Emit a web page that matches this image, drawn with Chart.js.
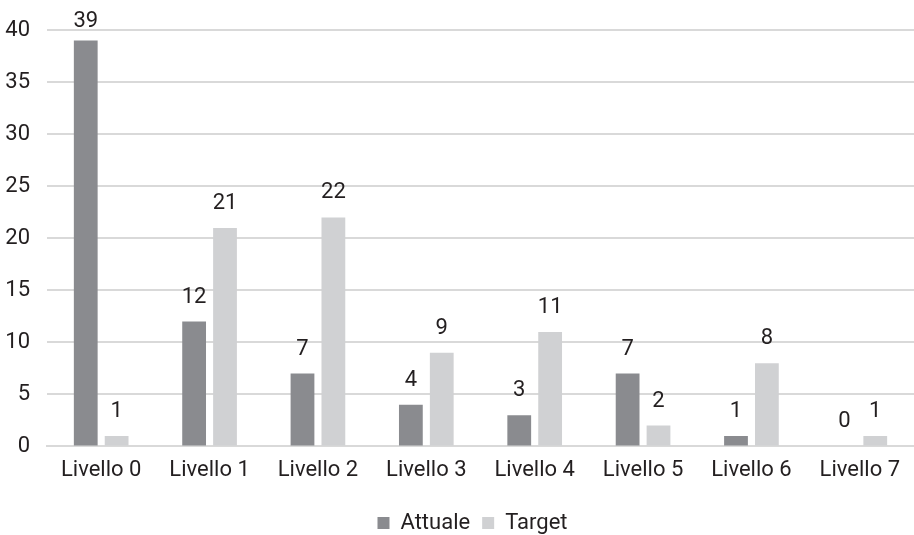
<!DOCTYPE html>
<html><head><meta charset="utf-8">
<script src="https://cdn.jsdelivr.net/npm/chart.js@4.4.1/dist/chart.umd.min.js"></script>
<style>html,body{margin:0;padding:0;background:#fff}#wrap{width:914px;height:535px}</style>
</head><body><div id="wrap"><canvas id="c"></canvas></div>
<script>
const categories = ["Livello 0","Livello 1","Livello 2","Livello 3","Livello 4","Livello 5","Livello 6","Livello 7"];
const attuale = [39,12,7,4,3,7,1,0];
const target = [1,21,22,9,11,2,8,1];
const seriesNames = ["Attuale","Target"];
const yTicks = [0,5,10,15,20,25,30,35,40];
const FONT = "Roboto, 'Liberation Sans', sans-serif";
const TXT = '#231f20';

const labelPlugin = {
  id: 'valueLabels',
  afterDatasetsDraw(chart) {
    const ctx = chart.ctx;
    ctx.save();
    ctx.font = '22px ' + FONT;
    ctx.fillStyle = TXT;
    ctx.textAlign = 'center';
    ctx.textBaseline = 'alphabetic';
    chart.data.datasets.forEach((ds, i) => {
      chart.getDatasetMeta(i).data.forEach((bar, j) => {
        const y = Math.max(bar.y - 19, chart.chartArea.top - 3);
        ctx.fillText(String(ds.data[j]), bar.x, y);
      });
    });
    ctx.restore();
  }
};

// centre the legend under the plot area like the reference
const legendShift = {
  id: 'legendShift',
  afterLayout(chart) {
    const lg = chart.legend;
    if (!lg) return;
    const target = (chart.chartArea.left + chart.chartArea.right) / 2 - 8;
    const cur = (lg.left + lg.right) / 2;
    const d = target - cur;
    lg.left += d; lg.right += d;
  }
};

new Chart(document.getElementById('c'), {
  type: 'bar',
  data: {
    labels: categories,
    datasets: [
      {label: seriesNames[0], data: attuale, backgroundColor: '#8a8b8f'},
      {label: seriesNames[1], data: target, backgroundColor: '#d0d1d3'}
    ]
  },
  options: {
    responsive: true,
    maintainAspectRatio: false,
    animation: false,
    categoryPercentage: 0.57,
    barPercentage: 0.77,
    layout: {padding: {top: 16, right: -3, left: 4, bottom: -9}},
    scales: {
      x: {
        grid: {display: false, drawTicks: false},
        border: {display: true, color: '#d9d9d9', width: 2},
        ticks: {color: TXT, font: {family: FONT, size: 22}, padding: 11},
        title: {display: true, text: ' ', color: 'rgba(0,0,0,0)', font: {size: 1}, padding: {top: 2, bottom: 2}}
      },
      y: {
        min: yTicks[0], max: yTicks[yTicks.length - 1],
        afterBuildTicks: (axis) => { axis.ticks = yTicks.map(v => ({value: v})); },
        afterFit: (axis) => { axis.width = 43; },
        ticks: {color: TXT, font: {family: FONT, size: 22}, padding: 17},
        grid: {color: '#d9d9d9', lineWidth: 2, drawTicks: false},
        border: {display: false}
      }
    },
    plugins: {
      legend: {
        position: 'bottom',
        labels: {color: TXT, font: {family: FONT, size: 22}, boxWidth: 12, boxHeight: 12, padding: 12}
      },
      tooltip: {enabled: false}
    }
  },
  plugins: [labelPlugin, legendShift]
});
</script></body></html>
